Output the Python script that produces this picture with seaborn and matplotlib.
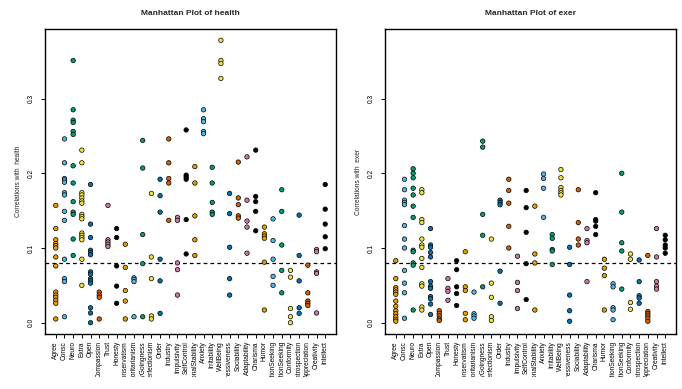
import matplotlib

matplotlib.use("Agg")
import matplotlib.pyplot as plt
import numpy as np
import pandas as pd
import seaborn as sns
from matplotlib.patches import Rectangle

TRAITS = [
    "Agree", "Consc", "Neuro", "Extra", "Open", "Compassion", "Trust", "Honesty",
    "Conservatism", "Authoritarianism", "EasyGoingness", "Perfectionism", "Order",
    "Industry", "Impulsivity", "SelfControl", "EmotionalStability", "Anxiety",
    "Irritability", "WellBeing", "Aggressiveness", "Sociability", "Adaptability",
    "Charisma", "Humor", "AttentionSeeking", "SensationSeeking", "Conformity",
    "Introspection", "Appreciation", "Creativity", "Intellect",
]
OKABE_ITO = ["#E69F00", "#56B4E9", "#009E73", "#F0E442",
             "#0072B2", "#D55E00", "#CC79A7", "#000000"]

# correlations, one list per trait
HEALTH_R = [
    [0.157, 0.126, 0.111, 0.106, 0.103, 0.100, 0.088, 0.076, 0.041, 0.037, 0.034, 0.030, 0.026, 0.005],
    [0.246, 0.214, 0.193, 0.191, 0.188, 0.174, 0.171, 0.149, 0.137, 0.085, 0.059, 0.055, 0.008],
    [0.351, 0.285, 0.271, 0.268, 0.256, 0.252, 0.210, 0.187, 0.162, 0.148, 0.145, 0.112, 0.090],
    [0.231, 0.214, 0.174, 0.171, 0.167, 0.163, 0.160, 0.145, 0.142, 0.139, 0.120, 0.117, 0.114, 0.111, 0.085, 0.050],
    [0.185, 0.132, 0.114, 0.097, 0.094, 0.091, 0.068, 0.065, 0.059, 0.056, 0.053, 0.020, 0.013, 0.000],
    [0.041, 0.037, 0.034, 0.005],
    [0.157, 0.111, 0.108, 0.105, 0.102],
    [0.126, 0.114, 0.076, 0.049, 0.026],
    [0.105, 0.074, 0.043, 0.029, 0.005],
    [0.060, 0.058, 0.055, 0.008],
    [0.244, 0.207, 0.118, 0.079, 0.008],
    [0.173, 0.088, 0.059, 0.009, 0.005],
    [0.192, 0.170, 0.148, 0.085, 0.056, 0.0125],
    [0.246, 0.214, 0.193, 0.187, 0.137],
    [0.141, 0.137, 0.080, 0.071, 0.037],
    [0.258, 0.1975, 0.195, 0.192, 0.138, 0.092],
    [0.209, 0.187, 0.143, 0.111, 0.090],
    [0.285, 0.273, 0.269, 0.256, 0.253],
    [0.208, 0.187, 0.161, 0.148, 0.145],
    [0.378, 0.351, 0.347, 0.327],
    [0.173, 0.146, 0.101, 0.059, 0.037],
    [0.215, 0.167, 0.158, 0.143, 0.140],
    [0.222, 0.164, 0.136, 0.128, 0.093],
    [0.231, 0.169, 0.162, 0.149, 0.123],
    [0.128, 0.119, 0.116, 0.113, 0.081, 0.017],
    [0.139, 0.110, 0.085, 0.062, 0.050],
    [0.178, 0.149, 0.104, 0.070, 0.040],
    [0.070, 0.061, 0.019, 0.008, 0.000],
    [0.144, 0.090, 0.056, 0.020, 0.0125],
    [0.077, 0.040, 0.029, 0.026, 0.023],
    [0.098, 0.095, 0.068, 0.066, 0.013],
    [0.185, 0.152, 0.132, 0.115, 0.099],
]
EXER_R = [
    [0.083, 0.059, 0.047, 0.044, 0.041, 0.038, 0.029, 0.022, 0.016, 0.012, 0.008, 0.0045, 0.002],
    [0.192, 0.178, 0.164, 0.161, 0.158, 0.130, 0.112, 0.100, 0.070, 0.053, 0.040, 0.006],
    [0.206, 0.200, 0.194, 0.180, 0.171, 0.156, 0.141, 0.097, 0.095, 0.080, 0.077, 0.017],
    [0.178, 0.174, 0.138, 0.134, 0.112, 0.104, 0.101, 0.086, 0.074, 0.052, 0.049, 0.021, 0.017],
    [0.126, 0.104, 0.101, 0.094, 0.088, 0.055, 0.049, 0.046, 0.035, 0.032, 0.025, 0.011],
    [0.016, 0.0125, 0.009, 0.005, 0.003],
    [0.059, 0.046, 0.042, 0.030],
    [0.083, 0.071, 0.048, 0.039, 0.023],
    [0.095, 0.048, 0.043, 0.0125, 0.004],
    [0.041, 0.012, 0.009, 0.006],
    [0.243, 0.235, 0.145, 0.117, 0.048],
    [0.112, 0.053, 0.034, 0.008, 0.003],
    [0.164, 0.161, 0.158, 0.069, 0.026],
    [0.192, 0.177, 0.160, 0.129, 0.100],
    [0.089, 0.054, 0.043, 0.019],
    [0.177, 0.154, 0.121, 0.079, 0.031],
    [0.156, 0.092, 0.080, 0.017],
    [0.199, 0.193, 0.180, 0.141],
    [0.118, 0.113, 0.098, 0.096, 0.078],
    [0.205, 0.194, 0.181, 0.177, 0.174, 0.171],
    [0.101, 0.078, 0.037, 0.016, 0.002],
    [0.178, 0.134, 0.112, 0.104],
    [0.126, 0.110, 0.107, 0.055],
    [0.174, 0.138, 0.136, 0.129, 0.118],
    [0.085, 0.073, 0.063, 0.017],
    [0.052, 0.048, 0.020, 0.017, 0.004],
    [0.200, 0.148, 0.107, 0.096, 0.045],
    [0.092, 0.085, 0.027, 0.018],
    [0.084, 0.055, 0.036, 0.033, 0.026],
    [0.090, 0.015, 0.012, 0.009, 0.006, 0.002],
    [0.126, 0.088, 0.055, 0.049, 0.045],
    [0.117, 0.111, 0.104, 0.100, 0.093],
]
THRESHOLD = 0.08
Y_TICKS = [0.0, 0.1, 0.2, 0.3]

sns.set_theme(style="ticks")
plt.rcParams["font.family"] = ["Liberation Sans", "DejaVu Sans"]

palette = {t: OKABE_ITO[i % len(OKABE_ITO)] for i, t in enumerate(TRAITS)}


def to_long(values):
    rows = [(t, v) for t, vs in zip(TRAITS, values) for v in vs]
    return pd.DataFrame(rows, columns=["trait", "r"])


fig = plt.figure(figsize=(6.82, 3.89), dpi=100)
ax_h = fig.add_axes([45 / 682, 55 / 389, 291 / 682, 305 / 389])
ax_e = fig.add_axes([385 / 682, 55 / 389, 291 / 682, 305 / 389])

all_max = max(max(v) for v in HEALTH_R + EXER_R)
pad = 0.04 * all_max
n = len(TRAITS)

for ax, values, name in [(ax_h, HEALTH_R, "health"), (ax_e, EXER_R, "exer")]:
    sns.stripplot(
        data=to_long(values), x="trait", y="r", hue="trait", order=TRAITS,
        palette=palette, jitter=False, size=3.2, linewidth=0.5,
        edgecolor="black", legend=False, ax=ax,
    )
    ax.axhline(THRESHOLD, color="black", linestyle=(0, (3, 2.5)), linewidth=0.9)
    ax.set_xlim(-0.04 * (n - 1), (n - 1) * 1.04)
    ax.set_ylim(-pad, all_max + pad)
    ax.set_yticks(Y_TICKS)
    ax.set_yticklabels([f"{t:.1f}" for t in Y_TICKS], rotation=90, va="center")
    ax.set_xticks(range(n))
    ax.set_xticklabels(TRAITS, rotation=90)
    ax.tick_params(axis="both", length=2.6, width=0.7, labelsize=4.8, colors="black")
    ax.tick_params(axis="x", pad=2.5)
    ax.tick_params(axis="y", pad=5)
    ax.set_xlabel("")
    ax.set_ylabel(f"Correlations with  {name}", fontsize=4.8, labelpad=4)
    ax.set_title(f"Manhattan Plot of {name}", fontsize=6, fontweight="bold", pad=10)
    for spine in ax.spines.values():
        spine.set_visible(True)
        spine.set_color("black")
        spine.set_linewidth(1.0)

# labels are cut off at the bottom of the figure region, like the original
fig.add_artist(Rectangle((0, 0), 1, 12 / 389, transform=fig.transFigure,
                         facecolor="white", edgecolor="none", zorder=10))

fig.savefig("out.png", dpi=100, facecolor="white")
plt.close(fig)
